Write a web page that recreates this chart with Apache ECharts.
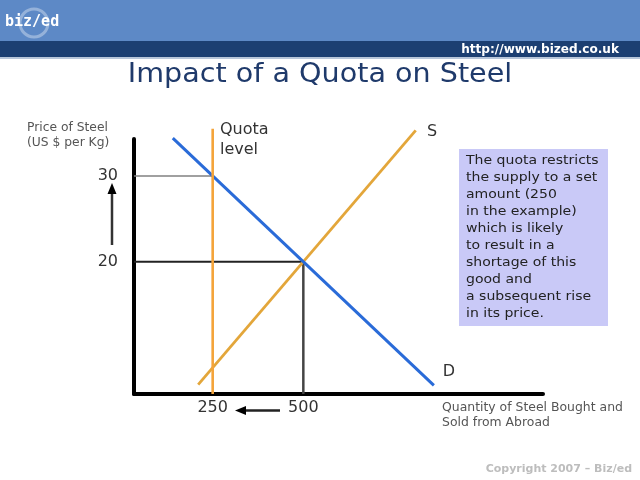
<!DOCTYPE html>
<html>
<head>
<meta charset="utf-8">
<script src="https://cdn.jsdelivr.net/npm/echarts@6/dist/echarts.min.js"></script>
<style>html,body{margin:0;padding:0;background:#fff;}#c{width:640px;height:480px;}</style>
</head>
<body>
<div id="c"></div>
<script>
// Data
const quantityTicks = [250, 500];
const priceTicks = [20, 30];
const demandLine = [[140, 34.4], [860, 5.6]];
const supplyLine = [[210, 5.7], [810, 35.3]];
const quotaLine = [[250, 4.6], [250, 35.5]];
const price30Guide = [[33, 30], [250, 30]];
const price20Guide = [[33, 20], [500, 20]];
const qty500Guide = [[500, 4.6], [500, 20]];
const boxLines = [
  'The quota restricts', 'the supply to a set', 'amount (250', 'in the example)',
  'which is likely', 'to result in a', 'shortage of this', 'good and',
  'a subsequent rise', 'in its price.'
];

const F = 'DejaVu Sans, Verdana, sans-serif';
const chart = echarts.init(document.getElementById('c'), null, {renderer: 'canvas'});

function ln(data, color, width) {
  return {type: 'line', data: data, symbol: 'none', clip: false, silent: true,
    lineStyle: {color: color, width: width}, animation: false, z: 3};
}

chart.setOption({
  animation: false,
  grid: {left: 134, right: 97, top: 139, bottom: 86, containLabel: false},
  xAxis: {
    type: 'value', min: 33, max: 1161,
    axisLine: {show: true, onZero: false, lineStyle: {color: '#000', width: 4}},
    axisTick: {show: false}, splitLine: {show: false},
    axisLabel: {customValues: quantityTicks, margin: 6, fontSize: 16, fontFamily: F, color: '#333'}
  },
  yAxis: {
    type: 'value', min: 4.6, max: 34.3,
    axisLine: {show: true, onZero: false, lineStyle: {color: '#000', width: 4}},
    axisTick: {show: false}, splitLine: {show: false},
    axisLabel: {customValues: priceTicks, margin: 16, fontSize: 16, fontFamily: F, color: '#333',
      padding: [0, 0, 4, 0]}
  },
  series: [
    ln(price30Guide, '#808080', 1.5),
    ln(price20Guide, '#222', 2),
    ln(qty500Guide, '#444', 2.5),
    ln(supplyLine, '#e3a63a', 2.8),
    ln(demandLine, '#2a6bd8', 3),
    ln(quotaLine, '#f4a43a', 2.6)
  ],
  graphic: [
    // header
    {type: 'rect', shape: {x: 0, y: 0, width: 640, height: 41}, style: {fill: '#5d89c6'}, silent: true},
    {type: 'rect', shape: {x: 0, y: 41, width: 640, height: 16}, style: {fill: '#1c3f72'}, silent: true},
    {type: 'rect', shape: {x: 0, y: 57, width: 640, height: 2}, style: {fill: '#b8c6da'}, silent: true},
    {type: 'circle', shape: {cx: 34, cy: 23, r: 14}, style: {fill: 'none', stroke: 'rgba(255,255,255,0.35)', lineWidth: 3}, silent: true},
    {type: 'text', x: 5, y: 22, style: {text: 'biz/ed', font: 'bold 15px DejaVu Sans Mono, monospace', fill: '#fff', verticalAlign: 'middle'}, silent: true},
    {type: 'text', x: 619, y: 50, scaleX: 0.93, style: {text: 'http://www.bized.co.uk', font: 'bold 13px ' + F, fill: '#fff', align: 'right', verticalAlign: 'middle'}, silent: true},
    // title
    {type: 'text', x: 320, y: 75, scaleX: 1.1, style: {text: 'Impact of a Quota on Steel', font: '26px ' + F, fill: '#1f3a6b', align: 'center', verticalAlign: 'middle'}, silent: true},
    // axis titles
    {type: 'text', x: 27, y: 121, scaleX: 1.07, style: {text: 'Price of Steel\n(US $ per Kg)', font: '11.5px ' + F, fill: '#555', lineHeight: 15}, silent: true},
    {type: 'text', x: 442, y: 401, scaleX: 1.08, style: {text: 'Quantity of Steel Bought and\nSold from Abroad', font: '11.5px ' + F, fill: '#555', lineHeight: 15}, silent: true},
    // curve labels
    {type: 'text', x: 220, y: 120, style: {text: 'Quota\nlevel', font: '16px ' + F, fill: '#333', lineHeight: 20}, silent: true},
    {type: 'text', x: 432, y: 132, style: {text: 'S', font: '16px ' + F, fill: '#333', align: 'center', verticalAlign: 'middle'}, silent: true},
    {type: 'text', x: 449, y: 372, style: {text: 'D', font: '16px ' + F, fill: '#333', align: 'center', verticalAlign: 'middle'}, silent: true},
    // arrows
    {type: 'line', shape: {x1: 112, y1: 245, x2: 112, y2: 193}, style: {stroke: '#333', lineWidth: 2.5}, silent: true},
    {type: 'polygon', shape: {points: [[112, 183], [107.5, 194], [116.5, 194]]}, style: {fill: '#000'}, silent: true},
    {type: 'line', shape: {x1: 280, y1: 410.5, x2: 244, y2: 410.5}, style: {stroke: '#222', lineWidth: 2.5}, silent: true},
    {type: 'polygon', shape: {points: [[235, 410.5], [246, 406], [246, 415]]}, style: {fill: '#000'}, silent: true},
    // text box
    {type: 'rect', shape: {x: 459, y: 149, width: 149, height: 177}, style: {fill: '#c9c9f7'}, silent: true},
    {type: 'text', x: 466, y: 152, scaleX: 1.08, style: {text: boxLines.join('\n'), font: '13px ' + F, fill: '#222', lineHeight: 17}, silent: true},
    // footer
    {type: 'text', x: 632, y: 469, style: {text: 'Copyright 2007 \u2013 Biz/ed', font: 'bold 11px ' + F, fill: '#bdbdbd', align: 'right', verticalAlign: 'middle'}, silent: true}
  ]
});
</script>
</body>
</html>
